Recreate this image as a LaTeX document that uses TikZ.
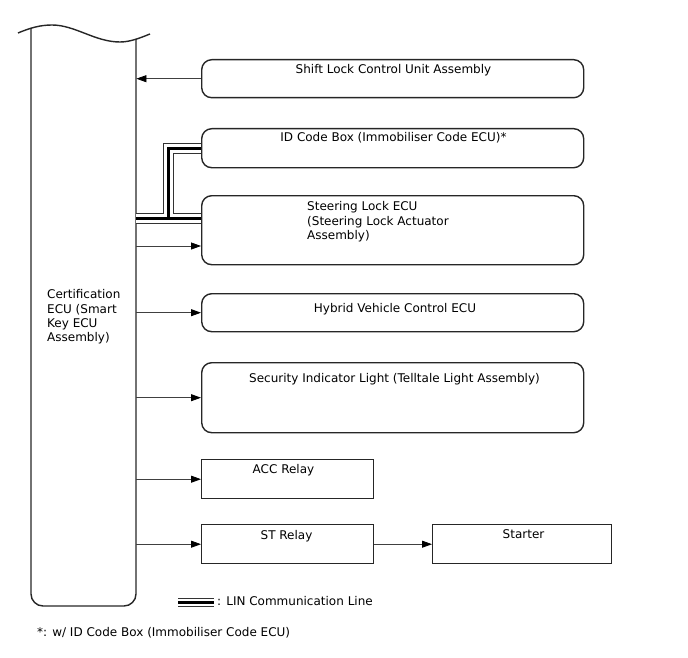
\documentclass[tikz,border=0pt]{standalone}
\usepackage{fontspec}
\setmainfont{DejaVu Sans}
\usetikzlibrary{arrows.meta}
\begin{document}
\begin{tikzpicture}[x=1pt,y=-1pt,
  box/.style={draw=black!85, line width=1.4pt, rounded corners=10pt, inner sep=0pt, anchor=north west},
  sbox/.style={draw=black!85, line width=1.4pt, inner sep=0pt, anchor=north west},
  lbl/.style={inner sep=0pt, font=\fontsize{12}{14.2}\selectfont},
  arr/.style={draw=black!75, line width=0.8pt, -{Triangle[length=10pt,width=7pt,color=black]}},
  linout/.style={draw=black!80, line width=11pt},
  linwhite/.style={draw=white, line width=9pt},
  linin/.style={draw=black, line width=3pt},
]
\useasboundingbox (0,0) rectangle (688,658);

% ECU anchor node and outline
\node[inner sep=0pt, minimum width=105pt, minimum height=578pt, anchor=north west] (ecu) at (31,28) {};
\draw[draw=black!85, line width=1.4pt, rounded corners=12pt] (31,28) -- (31,606) -- (136,606) -- (136,39);
\draw[draw=black!85, line width=1.4pt] (18,33) .. controls (30,28) and (40,25) .. (52,25)
  .. controls (75,25) and (95,42) .. (120,42) .. controls (130,42) and (140,38) .. (150,34);
\node[lbl, align=left, anchor=north west] (tecu) at (47,289.5) {Certification\\ECU (Smart\\Key ECU\\Assembly)};

% boxes
\node[box, minimum width=382pt, minimum height=38pt] (shift) at (201,59) {};
\node[box, minimum width=382pt, minimum height=39pt] (idbox) at (201,128) {};
\node[box, minimum width=382pt, minimum height=69pt] (steer) at (201,195) {};
\node[box, minimum width=382pt, minimum height=38pt] (hv) at (201,293) {};
\node[box, minimum width=382pt, minimum height=70pt] (sec) at (201,362) {};
\node[sbox, minimum width=172pt, minimum height=39pt] (acc) at (201,459) {};
\node[sbox, minimum width=172pt, minimum height=39pt] (st) at (201,524) {};
\node[sbox, minimum width=179pt, minimum height=39pt] (starter) at (432,524) {};

% labels
\node[lbl, anchor=base] (t1) at (393.5,73.5) {Shift Lock Control Unit Assembly};
\node[lbl, anchor=base] (t2) at (393.5,141.5) {ID Code Box (Immobiliser Code ECU)*};
\node[lbl, align=left, anchor=north west] (t3) at (307,201.5) {Steering Lock ECU\\(Steering Lock Actuator\\Assembly)};
\node[lbl, anchor=base] (t4) at (395,312.5) {Hybrid Vehicle Control ECU};
\node[lbl, anchor=base] (t5) at (394.5,382.5) {Security Indicator Light (Telltale Light Assembly)};
\node[lbl, anchor=base] (t6) at (283.5,473.5) {ACC Relay};
\node[lbl, anchor=base] (t7) at (286.5,539.5) {ST Relay};
\node[lbl, anchor=base] (t8) at (523.5,538.5) {Starter};

% arrows
\coordinate (ys) at (0,246);
\draw[arr] (shift.west) -- (shift.west -| ecu.east);
\draw[arr] (ecu.east |- ys) -- (steer.west |- ys);
\draw[arr] (ecu.east |- hv.west) -- (hv.west);
\draw[arr] (ecu.east |- sec.west) -- (sec.west);
\draw[arr] (ecu.east |- acc.west) -- (acc.west);
\draw[arr] (ecu.east |- st.west) -- (st.west);
\draw[arr] (st.east) -- (starter.west);

% LIN lines
\coordinate (yl) at (0,218);
\coordinate (br) at (168,218);
\foreach \s in {linout,linwhite,linin}{
  \draw[\s] (ecu.east |- yl) -- (steer.west |- yl);
  \draw[\s] (br) |- (idbox.west);
}

% legend
\coordinate (lg1) at (178,602);
\coordinate (lg2) at (214,602);
\draw[draw=black!80, line width=9pt] (lg1) -- (lg2);
\draw[draw=white, line width=7pt] (lg1) -- (lg2);
\draw[draw=black, line width=3pt] (lg1) -- (lg2);
\node[lbl, anchor=base west] (tl) at (217,605.3) {: LIN Communication Line};
\node[lbl, anchor=base west] (tf) at (37,636.3) {*: w/ ID Code Box (Immobiliser Code ECU)};
\end{tikzpicture}
\end{document}
